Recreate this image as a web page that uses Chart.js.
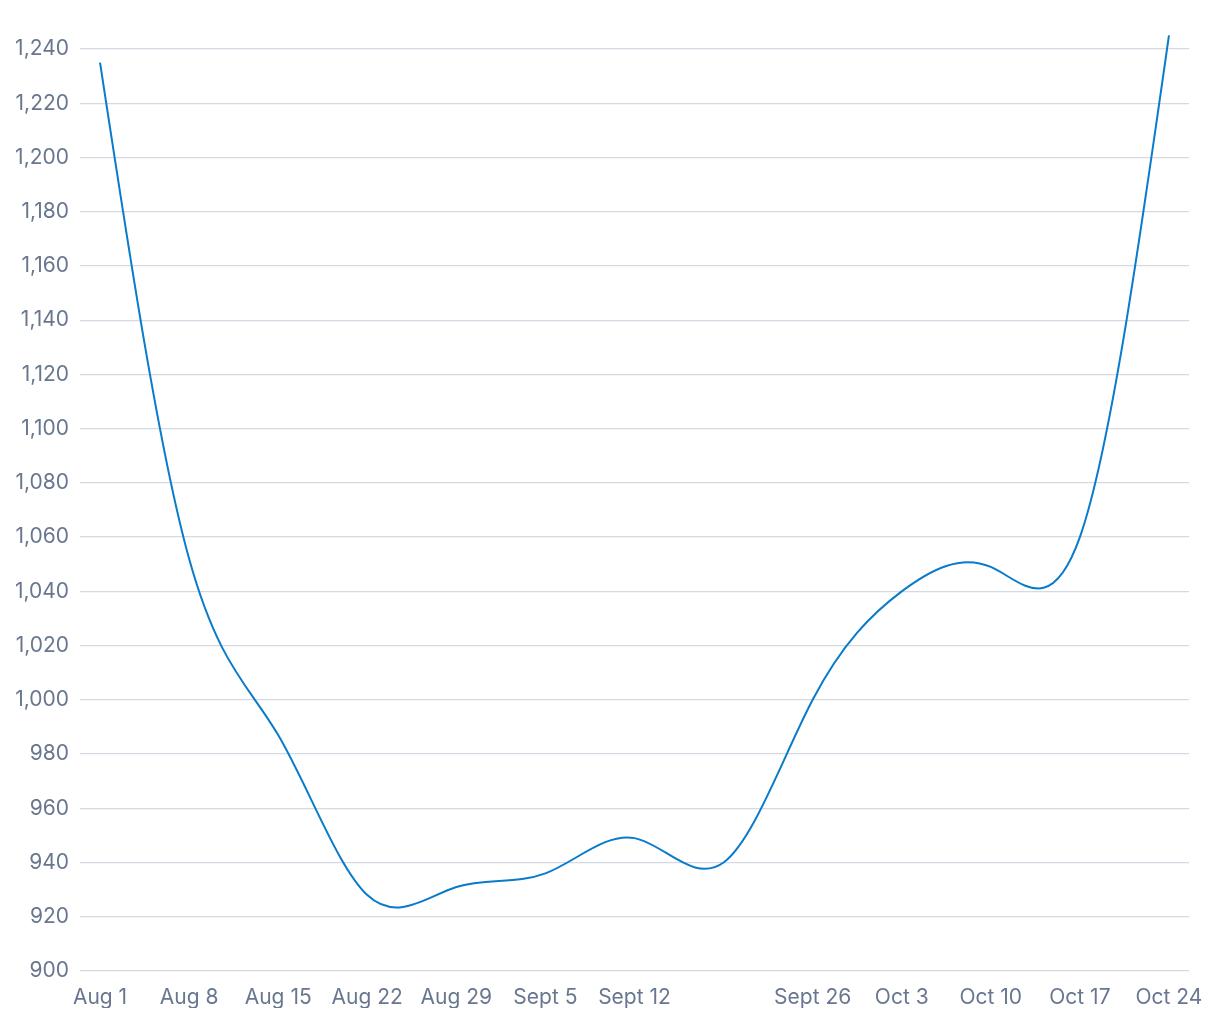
<!DOCTYPE html>
<html>
<head>
<meta charset="utf-8" />
<title>Weekly totals</title>
<script src="https://cdn.jsdelivr.net/npm/chart.js@4/dist/chart.umd.min.js"></script>
<style>
  html, body { margin: 0; padding: 0; background: #fff; }
  #wrap { width: 1220px; height: 1020px; position: relative; }
</style>
</head>
<body>
<div id="wrap"><canvas id="lineChart"></canvas></div>
<script>
// ---------- data ----------
// the Sept 19 tick has no label in the source chart
const weekLabels = ['Aug 1', 'Aug 8', 'Aug 15', 'Aug 22', 'Aug 29', 'Sept 5', 'Sept 12', '', 'Sept 26', 'Oct 3', 'Oct 10', 'Oct 17', 'Oct 24'];
const weekValues = [1235, 1052, 987, 928, 931, 936, 949, 940, 1000, 1040, 1049, 1060, 1245];
const yMin = 900;
const yMax = 1240;
const yStep = 20;

const LABEL_COLOR = '#68778f';
const GRID_COLOR = '#d4d9e3';
const LINE_COLOR = '#0a7bca';
const FONT = { family: 'Inter, "Noto Sans", sans-serif', size: 21 };

// ---------- natural cubic spline (same smoothing as the source) ----------
function naturalControls(v) {
  const n = v.length - 1;
  const a = new Array(n), b = new Array(n), r = new Array(n);
  a[0] = 0; b[0] = 2; r[0] = v[0] + 2 * v[1];
  for (let i = 1; i < n - 1; i++) { a[i] = 1; b[i] = 4; r[i] = 4 * v[i] + 2 * v[i + 1]; }
  a[n - 1] = 2; b[n - 1] = 7; r[n - 1] = 8 * v[n - 1] + v[n];
  for (let i = 1; i < n; i++) {
    const m = a[i] / b[i - 1];
    b[i] -= m;
    r[i] -= m * r[i - 1];
  }
  a[n - 1] = r[n - 1] / b[n - 1];
  for (let i = n - 2; i >= 0; i--) a[i] = (r[i] - a[i + 1]) / b[i];
  b[n - 1] = (v[n] + a[n - 1]) / 2;
  for (let i = 0; i < n - 1; i++) b[i] = 2 * v[i + 1] - a[i + 1];
  return [a, b];
}

const naturalCurve = {
  id: 'naturalCurve',
  beforeDatasetsDraw(chart) {
    const meta = chart.getDatasetMeta(0);
    const pts = meta.data;
    if (pts.length < 3) return;
    const [ax, bx] = naturalControls(pts.map(p => p.x));
    const [ay, by] = naturalControls(pts.map(p => p.y));
    for (let i = 0; i < pts.length - 1; i++) {
      pts[i].cp2x = ax[i]; pts[i].cp2y = ay[i];
      pts[i + 1].cp1x = bx[i]; pts[i + 1].cp1y = by[i];
    }
    meta.dataset._pointsUpdated = true;
    meta.dataset._path = undefined;
  }
};

// ---------- chart ----------
const ctx = document.getElementById('lineChart');
new Chart(ctx, {
  type: 'line',
  data: {
    datasets: [{
      data: weekValues.map((v, i) => ({ x: i, y: v })),
      borderColor: LINE_COLOR,
      borderWidth: 2,
      pointRadius: 0,
      pointHoverRadius: 0,
      tension: 0.4,
      fill: false,
      clip: false
    }]
  },
  options: {
    responsive: true,
    maintainAspectRatio: false,
    animation: false,
    layout: { padding: { top: 49, right: 31, bottom: 12, left: 0 } },
    plugins: {
      legend: { display: false },
      tooltip: { enabled: false }
    },
    scales: {
      x: {
        type: 'linear',
        min: -0.225,
        max: weekLabels.length - 1 + 0.225,
        afterBuildTicks: (scale) => {
          scale.ticks = weekLabels.map((_, i) => ({ value: i }));
        },
        afterFit: (scale) => { scale.height = 37; },
        grid: { display: false, drawTicks: false },
        border: { display: false },
        ticks: {
          autoSkip: false,
          maxRotation: 0,
          padding: 14,
          color: LABEL_COLOR,
          font: FONT,
          callback: (v) => weekLabels[v] ?? ''
        }
      },
      y: {
        min: yMin,
        max: yMax,
        afterFit: (scale) => { scale.width = 80; },
        grid: { color: GRID_COLOR, lineWidth: 1.3, drawTicks: false },
        border: { display: false },
        ticks: {
          stepSize: yStep,
          padding: 11,
          color: LABEL_COLOR,
          font: FONT
        }
      }
    }
  },
  plugins: [naturalCurve]
});
</script>
</body>
</html>
